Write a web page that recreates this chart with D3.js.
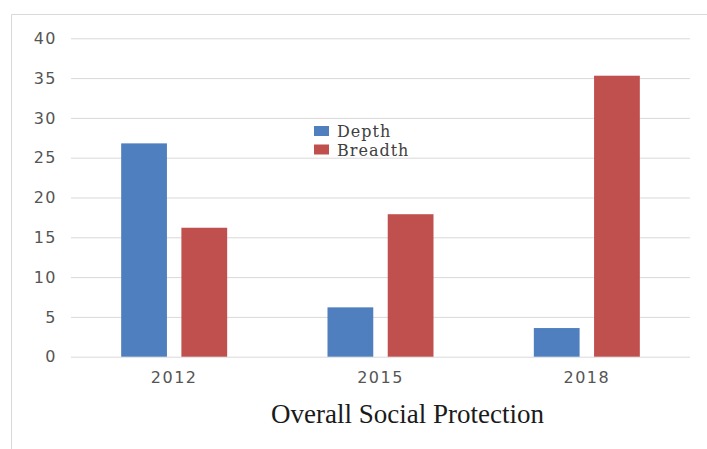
<!DOCTYPE html>
<html lang="en">
<head>
    <meta charset="UTF-8">
    <title>Overall Social Protection</title>
    <script src="https://d3js.org/d3.v7.min.js"></script>
    <style>
        body {
            margin: 0;
            background: #ffffff;
        }

        .tick text {
            font-family: "DejaVu Sans", sans-serif;
            font-size: 16px;
            letter-spacing: 1.5px;
            fill: #555555;
        }

        .grid line {
            stroke: #d9d9d9;
            stroke-width: 1;
        }

        .legend-label {
            font-family: "DejaVu Serif", serif;
            font-size: 16px;
            letter-spacing: 1px;
            fill: #404040;
        }

        .axis-title {
            font-family: "Liberation Serif", serif;
            font-size: 27px;
            fill: #1a1a1a;
        }
    </style>
</head>
<body>
    <svg id="chart"></svg>

    <script>
        // Values
        const years = ["2012", "2015", "2018"];
        const seriesNames = ["Depth", "Breadth"];
        const depth = [26.8, 6.2, 3.6];
        const breadth = [16.2, 17.9, 35.3];
        const yTicks = [0, 5, 10, 15, 20, 25, 30, 35, 40];
        const colors = ["#4f7fbe", "#c0504d"];

        const width = 707;
        const height = 449;
        const plot = { left: 71, right: 690, top: 38.3, bottom: 356.7 };

        const svg = d3.select("#chart")
            .attr("width", width)
            .attr("height", height);

        // outer frame (top and left edges only are visible)
        svg.append("path")
            .attr("d", `M11.5,${height} V14.5 H${width}`)
            .attr("fill", "none")
            .attr("stroke", "#d9d9d9");

        const y = d3.scaleLinear()
            .domain([0, 40])
            .range([plot.bottom, plot.top]);

        const x0 = d3.scaleBand()
            .domain(years)
            .range([plot.left, plot.right]);

        const groupWidth = 106;
        const x1 = d3.scaleBand()
            .domain(seriesNames)
            .range([(x0.bandwidth() - groupWidth) / 2, (x0.bandwidth() + groupWidth) / 2])
            .paddingInner(0.24);

        // gridlines + y labels
        svg.append("g")
            .attr("class", "grid")
            .attr("transform", `translate(${plot.left},0)`)
            .call(d3.axisLeft(y)
                .tickValues(yTicks)
                .tickSize(-(plot.right - plot.left))
                .tickPadding(14))
            .call(g => g.select(".domain").remove());

        // x labels
        svg.append("g")
            .attr("transform", `translate(0,${plot.bottom})`)
            .call(d3.axisBottom(x0).tickSize(0).tickPadding(15))
            .call(g => g.select(".domain").remove());

        // bars
        const rows = years.map((yr, i) => ({ year: yr, values: [depth[i], breadth[i]] }));

        const groups = svg.selectAll(".year")
            .data(rows)
            .enter()
            .append("g")
            .attr("class", "year")
            .attr("transform", d => `translate(${x0(d.year)},0)`);

        groups.selectAll("rect")
            .data(d => d.values.map((v, j) => ({ key: seriesNames[j], value: v, color: colors[j] })))
            .enter()
            .append("rect")
            .attr("x", d => x1(d.key))
            .attr("width", x1.bandwidth())
            .attr("y", d => y(d.value))
            .attr("height", d => y(0) - y(d.value))
            .attr("fill", d => d.color);

        // legend
        const legend = svg.append("g")
            .attr("transform", "translate(314,126)");

        const items = legend.selectAll(".item")
            .data(seriesNames)
            .enter()
            .append("g")
            .attr("class", "item")
            .attr("transform", (d, i) => `translate(0,${i * 18.5})`);

        items.append("rect")
            .attr("width", 15)
            .attr("height", 10)
            .attr("fill", (d, i) => colors[i]);

        items.append("text")
            .attr("class", "legend-label")
            .attr("x", 23)
            .attr("y", 11)
            .text(d => d);

        // axis title
        svg.append("text")
            .attr("class", "axis-title")
            .attr("x", (plot.left + plot.right) / 2 + 27)
            .attr("y", 423)
            .attr("text-anchor", "middle")
            .text("Overall Social Protection");
    </script>
</body>
</html>
